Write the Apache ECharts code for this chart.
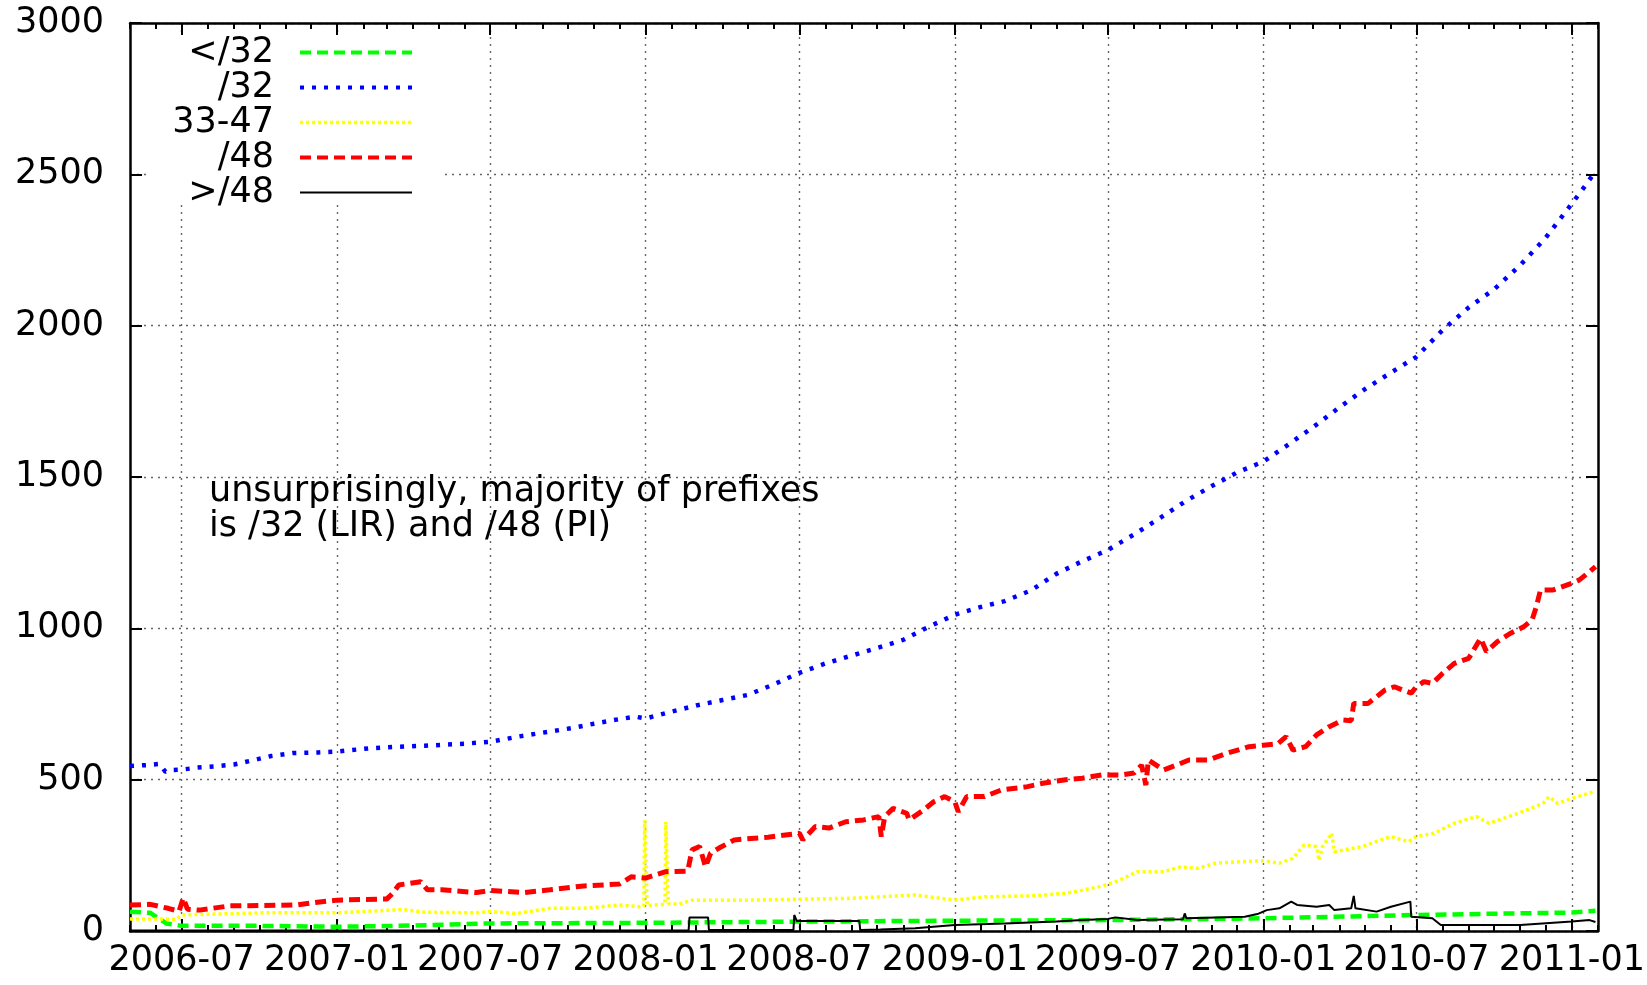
<!DOCTYPE html>
<html>
<head>
<meta charset="utf-8">
<title>prefix lengths</title>
<script src="https://cdn.jsdelivr.net/npm/echarts@6/dist/echarts.min.js"></script>
<style>
  html, body { margin: 0; padding: 0; background: #fff; }
  #chart { width: 1647px; height: 985px; }
</style>
</head>
<body>
<div id="chart"></div>
<script>
const seriesNames = ['</32', '/32', '33-47', '/48', '>/48']
const tickLabels = ['2006-07', '2007-01', '2007-07', '2008-01', '2008-07', '2009-01', '2009-07', '2010-01', '2010-07', '2011-01']
const note = 'unsurprisingly, majority of prefixes\nis /32 (LIR) and /48 (PI)'

const lt32 = [
  ['2006-05-01', 64], ['2006-05-25', 60], ['2006-06-13', 25], ['2006-07-01', 17], ['2006-10-01', 17],
  ['2007-01-01', 14], ['2007-04-01', 18], ['2007-07-01', 25], ['2008-01-01', 27], ['2008-07-01', 31],
  ['2009-01-01', 34], ['2009-07-01', 36], ['2010-01-01', 42], ['2010-07-01', 53], ['2011-01-01', 61],
  ['2011-01-29', 67],
]
const p32 = [
  ['2006-05-01', 545], ['2006-05-20', 548], ['2006-06-05', 552], ['2006-06-12', 526], ['2006-06-20', 532],
  ['2006-07-01', 533], ['2006-07-20', 540], ['2006-08-10', 544], ['2006-09-01', 550], ['2006-09-20', 562],
  ['2006-10-15', 578], ['2006-11-10', 588], ['2006-12-10', 590], ['2007-01-01', 593], ['2007-02-10', 604],
  ['2007-03-15', 609], ['2007-04-15', 612], ['2007-06-01', 619], ['2007-07-01', 625], ['2007-08-05', 643],
  ['2007-09-01', 655], ['2007-10-05', 670], ['2007-11-01', 685], ['2007-12-01', 700], ['2007-12-20', 708],
  ['2008-01-01', 702], ['2008-01-25', 720], ['2008-03-01', 745], ['2008-04-01', 763], ['2008-05-01', 780],
  ['2008-06-01', 815], ['2008-07-01', 853], ['2008-08-01', 884], ['2008-09-01', 910], ['2008-10-01', 935],
  ['2008-11-01', 962], ['2008-12-01', 1005], ['2009-01-01', 1045], ['2009-02-01', 1071], ['2009-03-01', 1090],
  ['2009-04-01', 1125], ['2009-05-01', 1180], ['2009-06-01', 1222], ['2009-07-01', 1259], ['2009-08-01', 1310],
  ['2009-09-01', 1365], ['2009-10-01', 1420], ['2009-11-01', 1470], ['2009-12-01', 1515], ['2010-01-01', 1551],
  ['2010-02-01', 1610], ['2010-03-01', 1665], ['2010-04-01', 1730], ['2010-05-01', 1790], ['2010-06-01', 1845],
  ['2010-07-01', 1897], ['2010-08-01', 1985], ['2010-09-01', 2060], ['2010-10-01', 2120], ['2010-11-01', 2200],
  ['2010-12-01', 2290], ['2011-01-01', 2403], ['2011-01-15', 2455], ['2011-01-29', 2510],
]
const mid = [
  ['2006-05-01', 40], ['2006-06-25', 39], ['2006-07-01', 53], ['2006-10-05', 60], ['2007-01-01', 60],
  ['2007-03-20', 71], ['2007-04-15', 62], ['2007-06-15', 60], ['2007-07-01', 64], ['2007-08-01', 58],
  ['2007-09-10', 75], ['2007-10-20', 75], ['2007-12-01', 86], ['2007-12-25', 80], ['2007-12-30', 82],
  ['2007-12-31', 367], ['2008-01-02', 367], ['2008-01-03', 84], ['2008-01-24', 88], ['2008-01-25', 361],
  ['2008-01-27', 361], ['2008-01-28', 90], ['2008-02-10', 89], ['2008-02-25', 102], ['2008-05-01', 102],
  ['2008-07-01', 105], ['2008-09-01', 108], ['2008-11-15', 119], ['2009-01-01', 102], ['2009-02-05', 113],
  ['2009-04-01', 116], ['2009-05-10', 124], ['2009-06-01', 135], ['2009-06-25', 149], ['2009-07-15', 168],
  ['2009-08-05', 196], ['2009-09-05', 196], ['2009-09-25', 212], ['2009-10-15', 207], ['2009-11-05', 224],
  ['2009-12-05', 229], ['2010-01-01', 232], ['2010-01-20', 224], ['2010-02-05', 240], ['2010-02-18', 284],
  ['2010-03-05', 279], ['2010-03-08', 233], ['2010-03-12', 279], ['2010-03-23', 323], ['2010-03-26', 262],
  ['2010-04-28', 279], ['2010-06-01', 312], ['2010-06-22', 295], ['2010-07-01', 312], ['2010-07-22', 323],
  ['2010-08-15', 356], ['2010-09-10', 378], ['2010-09-25', 356], ['2010-10-30', 389], ['2010-11-28', 422],
  ['2010-12-05', 444], ['2010-12-15', 422], ['2011-01-01', 438], ['2011-01-27', 460],
]
const p48 = [
  ['2006-05-01', 86], ['2006-05-25', 88], ['2006-06-15', 75], ['2006-06-28', 65], ['2006-07-03', 109],
  ['2006-07-08', 72], ['2006-07-22', 69], ['2006-08-27', 83], ['2006-10-05', 84], ['2006-11-15', 86],
  ['2006-11-30', 92], ['2007-01-01', 102], ['2007-03-01', 106], ['2007-03-08', 125], ['2007-03-15', 152],
  ['2007-04-10', 163], ['2007-04-18', 136], ['2007-05-05', 136], ['2007-06-15', 127], ['2007-07-01', 134],
  ['2007-08-10', 127], ['2007-09-10', 136], ['2007-10-20', 149], ['2007-12-01', 155], ['2007-12-15', 179],
  ['2008-01-01', 175], ['2008-01-25', 196], ['2008-02-20', 198], ['2008-02-25', 268], ['2008-03-05', 279],
  ['2008-03-12', 212], ['2008-03-18', 257], ['2008-03-28', 274], ['2008-04-15', 301], ['2008-05-25', 310],
  ['2008-07-01', 323], ['2008-07-05', 301], ['2008-07-20', 345], ['2008-08-05', 340], ['2008-08-25', 361],
  ['2008-09-15', 367], ['2008-10-03', 378], ['2008-10-06', 312], ['2008-10-10', 378], ['2008-10-20', 405],
  ['2008-11-05', 389], ['2008-11-08', 367], ['2008-11-25', 400], ['2008-12-07', 427], ['2008-12-20', 444],
  ['2009-01-01', 427], ['2009-01-05', 394], ['2009-01-15', 444], ['2009-02-05', 444], ['2009-02-25', 466],
  ['2009-03-28', 477], ['2009-04-15', 488], ['2009-05-10', 499], ['2009-06-01', 505], ['2009-06-25', 516],
  ['2009-07-15', 515], ['2009-08-01', 522], ['2009-08-10', 548], ['2009-08-15', 482], ['2009-08-18', 565],
  ['2009-09-05', 532], ['2009-09-20', 548], ['2009-10-05', 565], ['2009-10-28', 565], ['2009-11-20', 588],
  ['2009-12-15', 609], ['2010-01-01', 614], ['2010-01-18', 618], ['2010-01-28', 642], ['2010-02-05', 598],
  ['2010-02-20', 609], ['2010-03-05', 648], ['2010-03-20', 675], ['2010-04-05', 697], ['2010-04-15', 695],
  ['2010-04-18', 752], ['2010-05-05', 752], ['2010-05-25', 796], ['2010-06-05', 807], ['2010-06-25', 786],
  ['2010-07-01', 807], ['2010-07-10', 824], ['2010-07-20', 818], ['2010-08-01', 851], ['2010-08-15', 884],
  ['2010-09-01', 901], ['2010-09-15', 967], ['2010-09-22', 923], ['2010-10-05', 956], ['2010-10-20', 983],
  ['2010-11-05', 1005], ['2010-11-15', 1028], ['2010-11-20', 1071], ['2010-11-25', 1127], ['2010-12-10', 1127],
  ['2011-01-01', 1149], ['2011-01-10', 1160], ['2011-01-22', 1187], ['2011-01-29', 1204],
]
const gt48 = [
  ['2006-05-01', 2], ['2008-02-21', 2], ['2008-02-22', 45], ['2008-03-15', 45], ['2008-03-16', 3],
  ['2008-06-24', 3], ['2008-06-25', 53], ['2008-06-28', 33], ['2008-09-10', 33], ['2008-09-11', 3],
  ['2008-10-05', 5], ['2008-11-15', 9], ['2009-01-01', 20], ['2009-03-01', 25], ['2009-05-01', 31],
  ['2009-06-01', 36], ['2009-07-01', 40], ['2009-07-10', 45], ['2009-08-05', 36], ['2009-09-28', 39],
  ['2009-09-30', 58], ['2009-10-02', 42], ['2009-12-10', 47], ['2009-12-25', 56], ['2010-01-05', 69],
  ['2010-01-20', 75], ['2010-02-03', 97], ['2010-02-10', 86], ['2010-03-05', 80], ['2010-03-20', 86],
  ['2010-03-26', 69], ['2010-04-15', 75], ['2010-04-18', 116], ['2010-04-20', 75], ['2010-05-15', 64],
  ['2010-06-01', 80], ['2010-06-24', 97], ['2010-06-25', 47], ['2010-07-20', 42], ['2010-07-30', 20],
  ['2010-11-01', 20], ['2011-01-01', 31], ['2011-01-22', 36], ['2011-01-29', 30],
]

const FONT = '"DejaVu Sans"'
const toTime = (s) => Date.UTC(+s.slice(0, 4), +s.slice(5, 7) - 1, +s.slice(8, 10))
const xMin = toTime('2006-05-01')
const xMax = toTime('2011-02-01')
const majorTimes = tickLabels.map((t) => toTime(t + '-01'))
// monthly minor ticks
const minorTimes = []
for (let y = 2006; y <= 2011; y++) {
  for (let m = 0; m < 12; m++) {
    const t = Date.UTC(y, m, 1)
    if (t >= xMin && t <= xMax) minorTimes.push(t)
  }
}

const gridLine = { show: true, lineStyle: { color: '#666', width: 1.4, type: [2, 5] } }

// legend stroke widths, key lines are drawn a bit heavier than in the plot
const legendWidths = [4, 4, 3.5, 4, 2]

function xAxisOf(position, ticks, len, main) {
  return {
    type: 'value',
    position: position,
    min: xMin,
    max: xMax,
    axisLine: { show: main, lineStyle: { color: '#000', width: 2.5 } },
    axisTick: { show: true, inside: true, length: len, customValues: ticks, lineStyle: { color: '#000', width: 2 } },
    axisLabel: {
      show: main && position === 'bottom',
      customValues: ticks,
      margin: 12,
      color: '#000',
      fontSize: 35,
      fontFamily: FONT,
      formatter: (v) => tickLabels[majorTimes.indexOf(v)] || '',
    },
    splitLine: main && position === 'bottom' ? gridLine : { show: false },
  }
}

function yAxisOf(position, main) {
  return {
    type: 'value',
    position: position,
    min: 0,
    max: 3000,
    interval: 500,
    axisLine: { show: true, lineStyle: { color: '#000', width: 2.5 } },
    axisTick: { show: true, inside: true, length: 12, lineStyle: { color: '#000', width: 2 } },
    axisLabel: { show: main, margin: 26, color: '#000', fontSize: 35, fontFamily: FONT, formatter: (v) => String(v) },
    splitLine: main ? gridLine : { show: false },
  }
}

function lineOf(name, data, color, width, dash) {
  return {
    name: name,
    type: 'line',
    data: data.map((d) => [toTime(d[0]), d[1]]),
    symbol: 'none',
    showSymbol: false,
    xAxisIndex: 0,
    yAxisIndex: 0,
    itemStyle: { color: color },
    lineStyle: { color: color, width: width, type: dash },
  }
}

const chart = echarts.init(document.getElementById('chart'))
chart.setOption({
  animation: false,
  backgroundColor: '#fff',
  grid: { left: 130, right: 49, top: 23, bottom: 54, outerBoundsMode: 'none' },
  xAxis: [
    xAxisOf('bottom', majorTimes, 12, true),
    xAxisOf('bottom', minorTimes, 6, false),
    xAxisOf('top', majorTimes, 12, true),
    xAxisOf('top', minorTimes, 6, false),
  ],
  yAxis: [yAxisOf('left', true), yAxisOf('right', false)],
  legend: {
    orient: 'vertical',
    align: 'right',
    right: 1233,
    top: 35,
    padding: 0,
    itemGap: 0,
    itemWidth: 112,
    itemHeight: 14,
    data: seriesNames.map((n, i) => ({ name: n, lineStyle: { width: legendWidths[i] } })),
    itemStyle: { opacity: 0 },
    textStyle: { color: '#000', fontSize: 35, fontFamily: FONT, lineHeight: 34.5, padding: [0, 21, 0, 0] },
  },
  graphic: [
    { type: 'rect', z: 1, silent: true, shape: { x: 150, y: 37, width: 290, height: 168 }, style: { fill: '#fff' } },
    {
      type: 'text', z: 5, silent: true, x: 209, y: 474,
      style: { text: note, font: `35px ${FONT}`, fill: '#000', lineHeight: 35, verticalAlign: 'top' },
    },
  ],
  series: [
    lineOf(seriesNames[0], lt32, '#00ff00', 4.5, [11, 6]),
    lineOf(seriesNames[1], p32, '#0000ff', 4.5, [4, 8]),
    lineOf(seriesNames[2], mid, '#ffff00', 3.5, [3, 3]),
    lineOf(seriesNames[3], p48, '#ff0000', 5, [11, 6]),
    lineOf(seriesNames[4], gt48, '#000000', 2, 'solid'),
  ],
})
</script>
</body>
</html>
